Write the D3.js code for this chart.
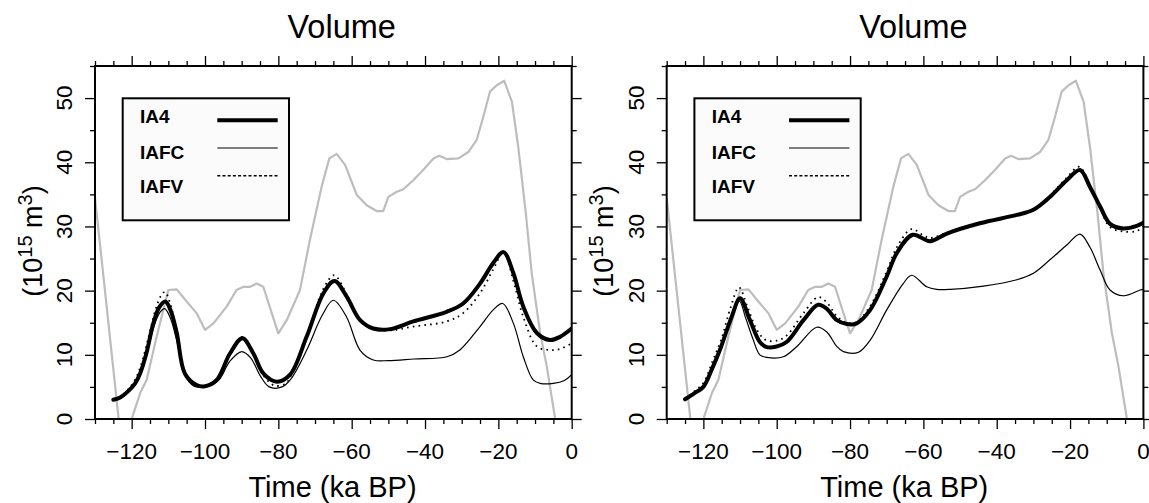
<!DOCTYPE html>
<html>
<head>
<meta charset="utf-8">
<script src="https://cdn.jsdelivr.net/npm/d3@7"></script>
<style>
  html, body { margin: 0; padding: 0; background: #fff; }
  svg { display: block; font-family: "Liberation Sans", Arial, Helvetica, sans-serif; }
</style>
</head>
<body>
<svg id="chart" width="1149" height="503"></svg>
<script>
// ---------------- data ----------------
const chartTitle = "Volume";
const xLabel = "Time (ka BP)";
const xDomain = [-130, 0];
const yDomain = [0, 55];
const xMajorTicks = [-120, -100, -80, -60, -40, -20, 0];
const xMinorTicks = [-130,-125,-115,-110,-105,-95,-90,-85,-75,-70,-65,-55,-50,-45,-35,-30,-25,-15,-10,-5];
const yMajorTicks = [0, 10, 20, 30, 40, 50];
const yMinorTicks = [5, 15, 25, 35, 45, 55];
const legendNames = ["IA4", "IAFC", "IAFV"];

// grey reference curve (same in both panels)
const greyRef = [[-130,34.5],[-123.6,0.3],[-121.8,-3],[-120,0],[-117.7,4.0],[-115.9,6.1],[-113.2,12.8],
  [-110,20.1],[-107.7,20.2],[-105,18.3],[-102.3,16.5],[-100,13.9],[-97.7,14.9],[-94.1,17.5],[-91.4,20.1],
  [-89.5,20.6],[-87.7,20.6],[-85.9,21.1],[-84.1,20.6],[-81.8,16.5],[-80,13.35],[-77.7,15.4],[-74.1,20.1],
  [-71.4,27.9],[-68.2,36.2],[-66.1,40.6],[-64.1,41.3],[-61.8,39.6],[-58.6,34.9],[-55.9,33.3],[-53.2,32.4],
  [-51.4,32.4],[-50,34.6],[-47.7,35.4],[-45.9,35.8],[-43.2,37.2],[-40.5,38.8],[-37.7,40.6],[-36.1,41.0],
  [-34.1,40.5],[-30.9,40.6],[-28.2,41.6],[-25.9,43.5],[-24.1,47.1],[-22.3,51.0],[-20.4,52.0],[-18.4,52.7],
  [-16.3,49.4],[-14.6,42.5],[-12.5,32.0],[-10.9,22.7],[-8.6,13.4],[-6.8,8.2],[-4.5,0],[-3,-6]];

// left panel
const ia4Left = [[-125,3.0],[-123,3.4],[-121,4.3],[-119,5.6],[-117.7,7.1],[-116,10.2],[-114.1,14.9],
  [-112.5,17.4],[-110.8,18.3],[-109.3,16.8],[-107.7,13.4],[-105.5,7.1],[-102.3,5.3],[-100,5.1],[-96.8,6.1],
  [-93.2,10.2],[-89.8,12.6],[-86.8,10.2],[-84.1,7.1],[-80.4,5.8],[-76.8,6.9],[-72.3,12.8],[-67.7,19.6],
  [-64.7,21.5],[-61.4,19.1],[-57.7,15.4],[-54.1,14.1],[-49.5,14.0],[-43.2,15.2],[-34.1,16.7],[-29.6,18.0],
  [-25,21.1],[-21.4,24.3],[-18.6,26.0],[-15.9,22.7],[-13.2,17.5],[-9.5,13.4],[-5.9,12.3],[-3.2,12.8],[0,14.1]];
const iafcLeft = [[-125,3.0],[-123,3.4],[-121,4.3],[-119,5.6],[-117.7,7.0],[-116,9.8],[-114,14.3],
  [-112.3,16.6],[-111,17.2],[-109.5,15.8],[-107.7,12.2],[-105.5,6.8],[-103,5.1],[-101,4.95],[-98,5.3],
  [-96,6.2],[-93.2,9.0],[-90,10.5],[-87.5,9.5],[-85,6.8],[-82.5,5.0],[-79,5.0],[-76.5,6.3],[-72.3,10.7],
  [-68,16.2],[-65,18.5],[-61.4,15.9],[-57.7,10.7],[-54.1,9.2],[-50,9.1],[-43,9.35],[-34,9.7],[-30.5,10.75],
  [-25,14.4],[-21.4,17.0],[-18.8,18.0],[-15.9,14.9],[-13.2,9.7],[-10.5,6.1],[-8.6,5.55],[-5,5.55],[-2,6.0],[0,6.9]];
const iafvLeft = [[-125,3.0],[-123,3.5],[-121,4.6],[-119,6.2],[-117.5,8.3],[-115.5,12.5],[-113.5,17.0],
  [-112,19.2],[-110.9,19.8],[-109.5,18.0],[-107.7,13.6],[-105.5,7.3],[-102.3,5.4],[-100,5.2],[-96.8,6.2],
  [-93.2,10.4],[-89.8,12.8],[-86.8,10.2],[-84.1,6.8],[-81,5.2],[-78,5.5],[-76.8,6.5],[-72.3,12.9],
  [-67.7,20.3],[-64.8,22.4],[-61.4,19.5],[-57.7,15.3],[-54.1,14.0],[-49.5,13.8],[-43.2,14.4],[-34.1,15.2],
  [-29.6,16.5],[-25,19.6],[-21.4,23.3],[-18.6,26.0],[-15.9,21.5],[-13.2,15.9],[-9.5,11.3],[-5.9,10.75],
  [-3.2,10.9],[0,11.8]];

// right panel
const ia4Right = [[-125,3.07],[-122.5,4.0],[-120,5.0],[-117.5,8.0],[-115.5,10.75],[-112.3,15.9],[-110,18.8],
  [-107.3,15.4],[-104.6,12.0],[-102.7,11.2],[-100,11.3],[-97.3,12.0],[-92.7,15.4],[-88.7,17.8],[-86.4,17.2],
  [-83.6,15.4],[-80.9,14.8],[-78.2,14.9],[-74.5,17.0],[-70,22.2],[-67.3,25.8],[-62.9,28.7],[-58.2,27.7],
  [-53.6,28.9],[-44.6,30.5],[-34.5,31.8],[-30,32.6],[-25.5,34.6],[-20.9,37.2],[-17.3,38.8],[-14.6,36.2],
  [-11.8,33.1],[-9.1,30.4],[-5.5,29.7],[-1.8,30.1],[0,30.6]];
const iafcRight = [[-125,3.07],[-122.5,4.0],[-120,5.0],[-117.5,8.0],[-115.5,10.75],[-112.3,15.7],[-110.2,18.4],
  [-108.5,15.8],[-106.5,12.5],[-104.6,10.0],[-102.7,9.6],[-98.2,9.7],[-94.5,11.3],[-89.1,14.3],[-86.4,13.6],
  [-83.6,11.3],[-81.8,10.5],[-77.7,10.4],[-74.5,12.3],[-70,17.0],[-65.5,21.1],[-63.2,22.4],[-59.1,20.6],
  [-56.4,20.2],[-52.7,20.2],[-43.6,20.7],[-34.5,21.7],[-30,22.7],[-25.5,24.8],[-20.9,27.1],[-17.3,28.8],
  [-14.6,26.8],[-11.8,23.2],[-9.1,20.1],[-5.5,19.2],[-0.9,20.1],[0,20.2]];
const iafvRight = [[-125,3.1],[-122.5,4.3],[-120,5.6],[-117.5,9.0],[-115,12.6],[-112.5,17.5],[-110.3,20.5],
  [-108,17.5],[-105.5,14.0],[-103,12.3],[-100,12.2],[-97.3,13.0],[-92.7,16.5],[-88.7,19.0],[-86.4,18.2],
  [-83.6,16.0],[-81,15.0],[-78.2,15.1],[-74.5,17.6],[-70,23.0],[-67,27.0],[-63.2,29.6],[-60,28.6],
  [-58.2,28.2],[-53.6,29.0],[-44.6,30.5],[-34.5,31.8],[-30,32.6],[-25.5,34.8],[-20.9,37.6],[-17.5,39.3],
  [-14.6,36.4],[-11.8,32.8],[-9.1,29.9],[-5.5,29.2],[-1.8,29.3],[0,30.0]];

// ---------------- layout ----------------
const svg = d3.select("#chart");
const W = 476.7, H = 353, TOP = 66;
const panels = [
  {ox: 95,    ia4: ia4Left,  iafc: iafcLeft,  iafv: iafvLeft},
  {ox: 666.7, ia4: ia4Right, iafc: iafcRight, iafv: iafvRight}
];
const x = d3.scaleLinear().domain(xDomain).range([0, W]);
const y = d3.scaleLinear().domain(yDomain).range([H, 0]);
const fmt = d3.format("");

panels.forEach((p, i) => {
  const g = svg.append("g").attr("transform", `translate(${p.ox},${TOP})`);
  const clipId = "clip" + i;
  g.append("clipPath").attr("id", clipId).append("rect").attr("width", W).attr("height", H);

  const lineSmooth = d3.line().x(d => x(d[0])).y(d => y(d[1])).curve(d3.curveCatmullRom.alpha(0.5));
  const lineLin = d3.line().x(d => x(d[0])).y(d => y(d[1]));
  const plot = g.append("g").attr("clip-path", `url(#${clipId})`);

  plot.append("path").attr("d", lineLin(greyRef)).attr("fill", "none")
    .attr("stroke", "#bdbdbd").attr("stroke-width", 2.2).attr("stroke-linejoin", "round");
  plot.append("path").attr("d", lineSmooth(p.ia4)).attr("fill", "none")
    .attr("stroke", "#000").attr("stroke-width", 4).attr("stroke-linejoin", "round").attr("stroke-linecap", "round");
  plot.append("path").attr("d", lineSmooth(p.iafc)).attr("fill", "none")
    .attr("stroke", "#000").attr("stroke-width", 1.2);
  plot.append("path").attr("d", lineSmooth(p.iafv)).attr("fill", "none")
    .attr("stroke", "#000").attr("stroke-width", 1.8).attr("stroke-dasharray", "1.6,4.2");

  // axes ticks
  const tickStyle = sel => { sel.select(".domain").remove(); sel.selectAll("line").attr("stroke", "#000").attr("stroke-width", 1.3); };
  g.append("g").attr("transform", `translate(0,${H})`)
    .call(d3.axisBottom(x).tickValues(xMinorTicks).tickSize(5).tickFormat("")).call(tickStyle);
  g.append("g").attr("transform", `translate(0,${H})`)
    .call(d3.axisBottom(x).tickValues(xMajorTicks).tickSize(10).tickFormat("")).call(tickStyle);
  g.append("g").call(d3.axisTop(x).tickValues(xMinorTicks).tickSize(5).tickFormat("")).call(tickStyle);
  g.append("g").call(d3.axisTop(x).tickValues(xMajorTicks).tickSize(10).tickFormat("")).call(tickStyle);
  g.append("g").call(d3.axisLeft(y).tickValues(yMinorTicks).tickSize(5).tickFormat("")).call(tickStyle);
  g.append("g").call(d3.axisLeft(y).tickValues(yMajorTicks).tickSize(10).tickFormat("")).call(tickStyle);
  g.append("g").attr("transform", `translate(${W},0)`)
    .call(d3.axisRight(y).tickValues(yMinorTicks).tickSize(5).tickFormat("")).call(tickStyle);
  g.append("g").attr("transform", `translate(${W},0)`)
    .call(d3.axisRight(y).tickValues(yMajorTicks).tickSize(10).tickFormat("")).call(tickStyle);

  // frame
  g.append("rect").attr("width", W).attr("height", H).attr("fill", "none")
    .attr("stroke", "#000").attr("stroke-width", 2);

  // tick labels
  g.selectAll(".xl").data(xMajorTicks).enter().append("text")
    .attr("x", d => x(d)).attr("y", H + 40).attr("text-anchor", "middle")
    .attr("font-size", 22.5).text(d => fmt(d));
  g.selectAll(".yl").data(yMajorTicks).enter().append("text")
    .attr("transform", d => `translate(-22.7,${y(d)}) rotate(-90)`)
    .attr("text-anchor", "middle").attr("font-size", 22.5).text(d => fmt(d));

  // titles
  g.append("text").attr("x", 246.7).attr("y", 38.3 - TOP).attr("text-anchor", "middle")
    .attr("font-size", 32.5).text(chartTitle);
  g.append("text").attr("x", 237.5).attr("y", 496.5 - TOP).attr("text-anchor", "middle")
    .attr("font-size", 29).text(xLabel);
  const yt = g.append("text").attr("transform", `translate(${41.5 - 95},${241 - TOP}) rotate(-90)`)
    .attr("text-anchor", "middle").attr("font-size", 27);
  yt.append("tspan").text("(10");
  yt.append("tspan").attr("font-size", 20).attr("dy", -10).text("15");
  yt.append("tspan").attr("dy", 10).text(" m");
  yt.append("tspan").attr("font-size", 20).attr("dy", -10).text("3");
  yt.append("tspan").attr("dy", 10).text(")");

  // legend
  const lg = g.append("g");
  lg.append("rect").attr("x", 27.7).attr("y", 98.3 - TOP).attr("width", 166.3).attr("height", 122)
    .attr("fill", "#fbfbfb").attr("stroke", "#000").attr("stroke-width", 2);
  const ly = [123.3, 159, 193.3];
  const lineY = [120.3, 148, 175.7];
  legendNames.forEach((n, k) => {
    lg.append("text").attr("x", 45).attr("y", ly[k] - TOP).attr("font-size", 19)
      .attr("font-weight", "bold").text(n);
  });
  lg.append("line").attr("x1", 122.3).attr("x2", 182.7).attr("y1", lineY[0] - TOP).attr("y2", lineY[0] - TOP)
    .attr("stroke", "#000").attr("stroke-width", 4);
  lg.append("line").attr("x1", 122.3).attr("x2", 182.7).attr("y1", lineY[1] - TOP).attr("y2", lineY[1] - TOP)
    .attr("stroke", "#000").attr("stroke-width", 1.2);
  lg.append("line").attr("x1", 122.3).attr("x2", 182.7).attr("y1", lineY[2] - TOP).attr("y2", lineY[2] - TOP)
    .attr("stroke", "#000").attr("stroke-width", 1.6).attr("stroke-dasharray", "3,2.2");
});
</script>
</body>
</html>
